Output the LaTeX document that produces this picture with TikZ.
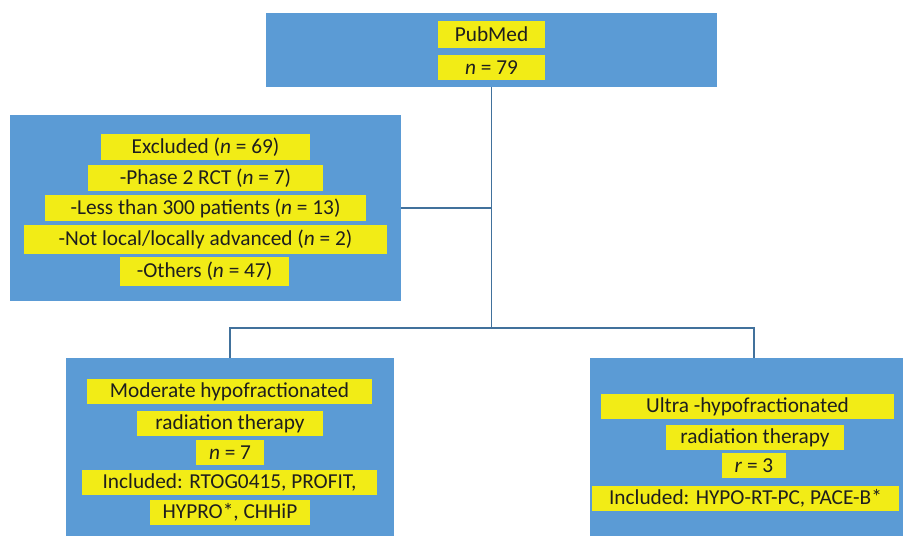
\documentclass[tikz,border=0pt]{standalone}
\usepackage{fontspec}
\setmainfont{Carlito}
\definecolor{boxblue}{RGB}{91,155,213}
\definecolor{lblyellow}{RGB}{242,236,22}
\definecolor{lineblue}{RGB}{65,113,156}
\definecolor{txt}{RGB}{30,30,30}
\begin{document}
\begin{tikzpicture}[x=1pt,y=-1pt,
  bigbox/.style={fill=boxblue,draw=none,inner sep=0pt,anchor=center},
  lbl/.style={fill=lblyellow,draw=none,inner sep=0pt,anchor=center,text=txt,font=\fontsize{21.3}{24}\selectfont},
  conn/.style={draw=lineblue,line width=1.6pt}]
\useasboundingbox (0,0) rectangle (903,536);
% big boxes
\node[bigbox,minimum width=451,minimum height=74] (top) at (491.5,50) {};
\node[bigbox,minimum width=391,minimum height=186] (left) at (205.5,208) {};
\node[bigbox,minimum width=328,minimum height=178] (bl) at (230,447) {};
\node[bigbox,minimum width=313,minimum height=178] (br) at (746.5,447) {};
% labels top
\node[lbl,minimum width=107,minimum height=27] (t1) at (491.5,34.5) {PubMed};
\node[lbl,minimum width=107,minimum height=25] (t2) at (491.5,67.5) {\textit{n} = 79};
% labels left
\node[lbl,minimum width=209,minimum height=26] (l1) at (205.5,147) {Excluded (\textit{n} = 69)};
\node[lbl,minimum width=235,minimum height=26] (l2) at (205.5,178) {-Phase 2 RCT (\textit{n} = 7)};
\node[lbl,minimum width=321,minimum height=26] (l3) at (205.5,208) {-Less than 300 patients (\textit{n} = 13)};
\node[lbl,minimum width=363,minimum height=29] (l4) at (205.5,239.5) {-Not local/locally advanced (\textit{n} = 2)};
\node[lbl,minimum width=169,minimum height=29] (l5) at (204.5,271.5) {-Others (\textit{n} = 47)};
% labels bottom left
\node[lbl,minimum width=285,minimum height=25] (m1) at (229.5,391.5) {Moderate hypofractionated};
\node[lbl,minimum width=186,minimum height=25] (m2) at (230,423.5) {radiation therapy};
\node[lbl,minimum width=68,minimum height=25] (m3) at (230,452.5) {\textit{n} = 7};
\node[lbl,minimum width=295,minimum height=25] (m4) at (229.5,482.5) {Included: RTOG0415, PROFIT,};
\node[lbl,minimum width=160,minimum height=25] (m5) at (230,512.5) {HYPRO*, CHHiP};
% labels bottom right
\node[lbl,minimum width=293,minimum height=25] (u1) at (747.5,406.5) {Ultra -hypofractionated};
\node[lbl,minimum width=178,minimum height=25] (u2) at (755,437.5) {radiation therapy};
\node[lbl,minimum width=64,minimum height=25] (u3) at (754,465.5) {\textit{r} = 3};
\node[lbl,minimum width=307,minimum height=25] (u4) at (745.5,498.5) {Included: HYPO-RT-PC, PACE-B*};
% connectors
\coordinate (j) at (491.5,328);
\coordinate (brtop) at (754,358);
\draw[conn] (top.south) -- (j);
\draw[conn] (left.east) -- (left.east -| top.south);
\draw[conn] (bl.north) |- (j) -| (brtop);
\end{tikzpicture}
\end{document}
